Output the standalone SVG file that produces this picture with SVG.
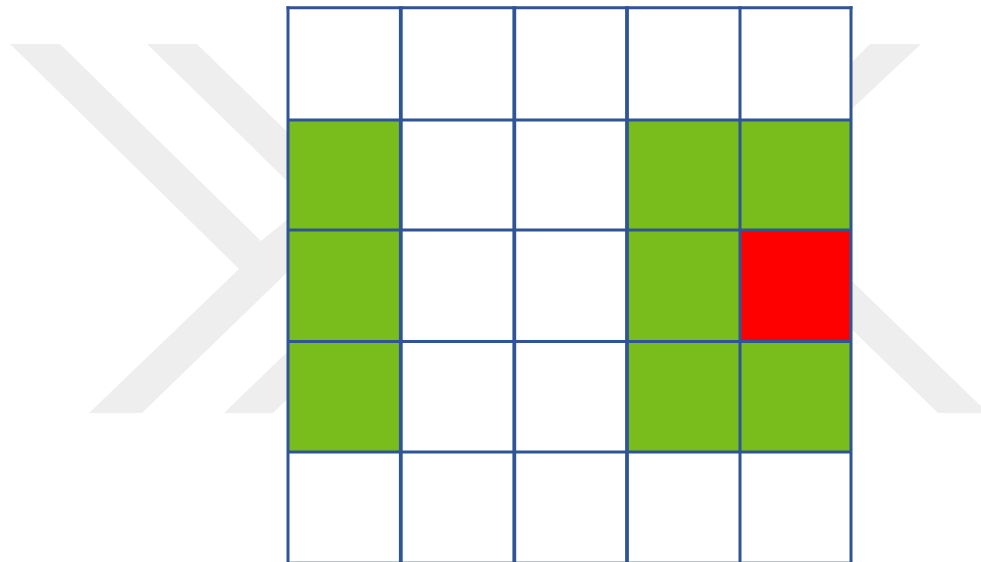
<svg xmlns="http://www.w3.org/2000/svg" width="981" height="562" viewBox="0 0 981 562">
<style>
.wm{fill:#EEEEEE;stroke:none}
.w{fill:#FFFFFF}
.g{fill:#78BD1B}
.r{fill:#FF0000}
.ln{stroke:#2F5597;stroke-width:3;fill:none}
.lt{stroke:#2F5597;stroke-width:3.8;fill:none}
</style>
<rect x="0" y="0" width="981" height="562" fill="#FFFFFF"/>
<g id="watermark">
<polygon class="wm" points="10,44 60,44 261,241 300,209 300,260 142,413 89,413 239,269"/>
<polygon class="wm" points="147,44 197,44 425,266 273,413 224,413 375,267"/>
<polygon class="wm" points="870,44 921,44 840,120 840,74"/>
<polygon class="wm" points="840,269.5 988,413 938,413 840,318"/>
</g>
<g id="cells">
<g id="c00"><rect class="w" x="288" y="8" width="113" height="112"/></g>
<g id="c01"><rect class="w" x="401" y="8" width="113.5" height="112"/></g>
<g id="c02"><rect class="w" x="514.5" y="8" width="112.5" height="112"/></g>
<g id="c03"><rect class="w" x="627" y="8" width="113" height="112"/></g>
<g id="c04"><rect class="w" x="740" y="8" width="111" height="112"/></g>
<g id="c10"><rect class="g" x="288" y="120" width="113" height="110"/></g>
<g id="c11"><rect class="w" x="401" y="120" width="113.5" height="110"/></g>
<g id="c12"><rect class="w" x="514.5" y="120" width="112.5" height="110"/></g>
<g id="c13"><rect class="g" x="627" y="120" width="113" height="110"/></g>
<g id="c14"><rect class="g" x="740" y="120" width="111" height="110"/></g>
<g id="c20"><rect class="g" x="288" y="230" width="113" height="111.5"/></g>
<g id="c21"><rect class="w" x="401" y="230" width="113.5" height="111.5"/></g>
<g id="c22"><rect class="w" x="514.5" y="230" width="112.5" height="111.5"/></g>
<g id="c23"><rect class="g" x="627" y="230" width="113" height="111.5"/></g>
<g id="c24"><rect class="r" x="740" y="230" width="111" height="111.5"/></g>
<g id="c30"><rect class="g" x="288" y="341.5" width="113" height="110.5"/></g>
<g id="c31"><rect class="w" x="401" y="341.5" width="113.5" height="110.5"/></g>
<g id="c32"><rect class="w" x="514.5" y="341.5" width="112.5" height="110.5"/></g>
<g id="c33"><rect class="g" x="627" y="341.5" width="113" height="110.5"/></g>
<g id="c34"><rect class="g" x="740" y="341.5" width="111" height="110.5"/></g>
<g id="c40"><rect class="w" x="288" y="452" width="113" height="110"/></g>
<g id="c41"><rect class="w" x="401" y="452" width="113.5" height="110"/></g>
<g id="c42"><rect class="w" x="514.5" y="452" width="112.5" height="110"/></g>
<g id="c43"><rect class="w" x="627" y="452" width="113" height="110"/></g>
<g id="c44"><rect class="w" x="740" y="452" width="111" height="110"/></g>
</g>
<g id="grid">
<line class="ln" x1="286.5" y1="7.7" x2="852.5" y2="7.7"/>
<line class="ln" x1="288" y1="120" x2="851" y2="120"/>
<line class="ln" x1="288" y1="230" x2="851" y2="230"/>
<line class="ln" x1="288" y1="341.5" x2="851" y2="341.5"/>
<line class="ln" x1="288" y1="452" x2="851" y2="452"/>
<line x1="288" y1="561.5" x2="851" y2="561.5" stroke="#B8C4DA" stroke-width="1"/>
<line class="ln" x1="288" y1="6.2" x2="288" y2="562"/>
<line class="lt" x1="400.8" y1="6.2" x2="400.8" y2="562"/>
<line class="lt" x1="514.3" y1="6.2" x2="514.3" y2="562"/>
<line class="lt" x1="627" y1="6.2" x2="627" y2="562"/>
<line class="ln" x1="740" y1="6.2" x2="740" y2="562"/>
<line class="ln" x1="851" y1="6.2" x2="851" y2="562"/>
</g>
</svg>
